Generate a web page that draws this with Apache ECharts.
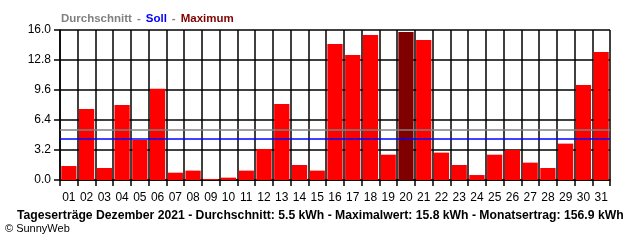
<!DOCTYPE html>
<html>
<head>
<meta charset="utf-8">
<script src="https://cdn.jsdelivr.net/npm/echarts@6/dist/echarts.min.js"></script>
<style>
html,body{margin:0;padding:0;background:#fff;}
#c{width:640px;height:240px;}
</style>
</head>
<body>
<div id="c"></div>
<script>
const days = ['01','02','03','04','05','06','07','08','09','10','11','12','13','14','15','16','17','18','19','20','21','22','23','24','25','26','27','28','29','30','31'];
const yields = [1.49,7.57,1.28,8.0,4.27,9.74,0.78,1.0,0.11,0.25,1.0,3.31,8.11,1.6,1.0,14.5,13.33,15.47,2.7,15.8,14.93,2.92,1.6,0.53,2.7,3.2,1.85,1.28,3.88,10.13,13.65];
const averageValue = 5.4;
const targetValue = 4.45;
const yTicks = [0,3.2,6.4,9.6,12.8,16.0];
const titleText = 'Tageserträge Dezember 2021 - Durchschnitt: 5.5 kWh - Maximalwert: 15.8 kWh - Monatsertrag: 156.9 kWh';

const maxVal = Math.max(...yields);
const barData = yields.map(v => v === maxVal ? {value: v, itemStyle: {color: '#800000'}} : v);

const chart = echarts.init(document.getElementById('c'), null, {renderer: 'canvas'});
const FONT = 'Liberation Sans';
chart.setOption({
  animation: false,
  backgroundColor: '#ffffff',
  title: [
    {
      left: 61, top: 10, padding: 0,
      text: '{g|Durchschnitt} {g|-} {b|Soll} {g|-} {r|Maximum}',
      textStyle: {
        rich: {
          g: {color: '#808080', fontWeight: 'bold', fontSize: 11.5, fontFamily: FONT},
          b: {color: '#0000ff', fontWeight: 'bold', fontSize: 11.5, fontFamily: FONT},
          r: {color: '#800000', fontWeight: 'bold', fontSize: 11.5, fontFamily: FONT}
        }
      }
    },
    {
      left: 17, top: 210, padding: 0,
      text: titleText,
      textStyle: {color: '#000', fontWeight: 'bold', fontSize: 12.2, fontFamily: FONT}
    },
    {
      left: 5, top: 223, padding: 0,
      text: '© SunnyWeb',
      textStyle: {color: '#000', fontWeight: 'normal', fontSize: 11, fontFamily: FONT}
    }
  ],
  grid: {left: 60, right: 30, top: 30, bottom: 60, containLabel: false},
  xAxis: {
    type: 'category',
    data: days,
    boundaryGap: true,
    axisLine: {show: true, lineStyle: {color: '#000', width: 1.5}},
    axisTick: {show: true, length: 6, lineStyle: {color: '#000', width: 1.5}},
    axisLabel: {color: '#000', fontSize: 12, fontFamily: FONT, margin: 12, interval: 0},
    splitLine: {show: true, interval: 0, lineStyle: {color: '#000', width: 1.5}}
  },
  yAxis: {
    type: 'value',
    min: 0, max: 16, interval: 3.2,
    axisLine: {show: true, lineStyle: {color: '#000', width: 1.5}},
    axisTick: {show: true, length: 6, lineStyle: {color: '#000', width: 1.5}},
    axisLabel: {color: '#000', fontSize: 12, fontFamily: FONT, margin: 9,
      formatter: v => yTicks.includes(Math.round(v*10)/10) ? v.toFixed(1) : ''},
    splitLine: {show: true, lineStyle: {color: '#000', width: 1.5}}
  },
  series: [{
    type: 'bar',
    data: barData,
    barCategoryGap: '14%',
    itemStyle: {color: '#ff0000'},
    z: 2,
    markLine: {
      silent: true,
      symbol: 'none',
      label: {show: false},
      z: 5,
      data: [
        {yAxis: averageValue, lineStyle: {color: '#808080', width: 1.5, type: 'solid'}},
        {yAxis: targetValue, lineStyle: {color: '#0000ff', width: 1.5, type: 'solid'}}
      ]
    }
  }]
});
</script>
</body>
</html>
